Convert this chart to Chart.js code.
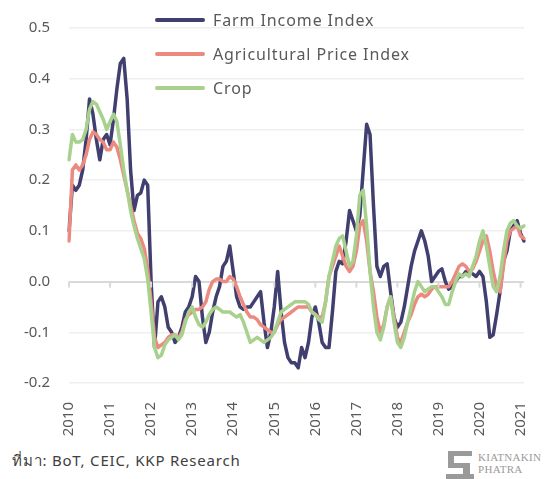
<!DOCTYPE html>
<html>
<head>
<meta charset="utf-8">
<script src="https://cdn.jsdelivr.net/npm/chart.js@4"></script>
<style>
  body{margin:0;background:#fff;font-family:"Noto Sans",sans-serif;}
  #wrap{position:relative;width:553px;height:479px;}
  #legend{position:absolute;left:155px;top:3px;}
  .item{display:flex;align-items:center;height:34px;color:#595959;font-size:16px;letter-spacing:.9px;}
  .item span.ln{display:inline-block;width:50px;height:4px;border-radius:2px;margin-right:8px;}
  #src{position:absolute;left:12px;top:449px;font-size:15px;color:#404040;letter-spacing:.8px;}
  #logo{position:absolute;left:446px;top:450px;width:105px;height:29px;}
  #logo .txt{position:absolute;left:32px;top:1px;font-family:"Liberation Serif",serif;font-size:11px;line-height:12px;color:#9a9a9a;letter-spacing:.3px;}
</style>
</head>
<body>
<div id="wrap">
  <canvas id="c" width="553" height="445"></canvas>
  <div id="legend"></div>
  <div id="src">ที่มา: BoT, CEIC, KKP Research</div>
  <div id="logo">
    <svg width="28" height="29" viewBox="0 0 28 29">
      <rect x="2" y="1" width="24" height="5" fill="#9a9a9a"/>
      <rect x="2" y="6" width="6" height="10" fill="#9a9a9a"/>
      <rect x="2" y="13" width="22" height="5" fill="#9a9a9a"/>
      <rect x="17" y="18" width="7" height="8" fill="#9a9a9a"/>
      <rect x="0" y="24" width="28" height="5" fill="#9a9a9a"/>
    </svg>
    <div class="txt">KIATNAKIN<br>PHATRA</div>
  </div>
</div>
<script>
// monthly, Jan 2010 - Feb 2021
const startYear=2010, nMonths=134;
const months=[];
for(let i=0;i<nMonths;i++){
  const y=startYear+Math.floor(i/12), m=i%12+1;
  months.push(y+"-"+(m<10?"0":"")+m);
}
const yTicks=[-0.2,-0.1,0,0.1,0.2,0.3,0.4,0.5];

const farmIncome=[
  0.10,0.19,0.18,0.19,0.22,0.28,0.36,0.33,0.28,0.24,0.28,0.29,
  0.27,0.32,0.38,0.43,0.44,0.36,0.22,0.14,0.17,0.175,0.20,0.19,
  0.00,-0.13,-0.04,-0.03,-0.05,-0.09,-0.10,-0.12,-0.11,-0.09,-0.06,-0.05,
  -0.03,0.01,0.00,-0.07,-0.12,-0.10,-0.06,-0.03,-0.01,0.03,0.04,0.07,
  0.02,-0.03,-0.05,-0.055,-0.05,-0.05,-0.04,-0.03,-0.02,-0.08,-0.13,-0.10,
  -0.05,0.02,-0.06,-0.12,-0.15,-0.16,-0.16,-0.17,-0.13,-0.15,-0.12,-0.07,
  -0.05,-0.08,-0.12,-0.13,-0.13,-0.06,0.02,0.04,0.035,0.08,0.14,0.12,
  0.10,0.13,0.22,0.31,0.29,0.15,0.03,0.01,0.03,0.035,-0.02,-0.07,
  -0.09,-0.08,-0.05,-0.01,0.03,0.06,0.08,0.10,0.08,0.05,0.00,0.01,
  0.02,0.025,0.00,-0.015,-0.01,0.00,0.01,0.01,0.02,0.02,0.015,0.01,
  0.02,0.01,-0.04,-0.11,-0.105,-0.065,-0.02,0.04,0.06,0.10,0.11,0.12,
  0.095,0.08
];
const agriPrice=[
  0.08,0.22,0.23,0.22,0.23,0.25,0.28,0.295,0.29,0.28,0.275,0.26,
  0.26,0.275,0.265,0.24,0.21,0.18,0.15,0.12,0.095,0.085,0.065,0.025,
  -0.04,-0.11,-0.13,-0.125,-0.12,-0.11,-0.105,-0.105,-0.11,-0.10,-0.075,-0.065,
  -0.06,-0.055,-0.055,-0.05,-0.04,-0.015,0.00,0.005,0.005,0.00,0.00,0.01,
  0.005,-0.01,-0.03,-0.045,-0.06,-0.07,-0.07,-0.075,-0.085,-0.09,-0.095,-0.10,
  -0.10,-0.085,-0.075,-0.07,-0.065,-0.06,-0.055,-0.05,-0.05,-0.05,-0.05,-0.06,
  -0.065,-0.07,-0.07,-0.04,0.01,0.03,0.05,0.07,0.05,0.03,0.02,0.03,
  0.06,0.11,0.12,0.08,0.02,-0.02,-0.07,-0.10,-0.085,-0.05,-0.03,-0.07,
  -0.11,-0.12,-0.10,-0.08,-0.065,-0.045,-0.03,-0.025,-0.03,-0.025,-0.015,-0.01,
  -0.01,-0.01,-0.01,-0.01,0.00,0.015,0.03,0.035,0.03,0.02,0.025,0.04,
  0.06,0.08,0.09,0.06,0.02,-0.01,-0.02,0.03,0.08,0.10,0.105,0.11,
  0.09,0.085
];
const crop=[
  0.24,0.29,0.275,0.275,0.28,0.30,0.34,0.355,0.35,0.335,0.32,0.30,
  0.315,0.33,0.315,0.27,0.22,0.18,0.14,0.11,0.085,0.065,0.045,0.005,
  -0.06,-0.13,-0.15,-0.145,-0.125,-0.115,-0.11,-0.105,-0.115,-0.105,-0.08,-0.06,
  -0.05,-0.07,-0.085,-0.09,-0.08,-0.065,-0.055,-0.05,-0.055,-0.06,-0.06,-0.06,
  -0.065,-0.07,-0.065,-0.08,-0.10,-0.12,-0.115,-0.11,-0.115,-0.12,-0.115,-0.11,
  -0.10,-0.08,-0.06,-0.055,-0.05,-0.045,-0.04,-0.04,-0.04,-0.04,-0.045,-0.06,
  -0.065,-0.075,-0.08,-0.04,0.01,0.04,0.07,0.085,0.09,0.06,0.03,0.04,
  0.09,0.17,0.18,0.11,0.02,-0.05,-0.10,-0.115,-0.09,-0.05,-0.03,-0.08,
  -0.12,-0.13,-0.11,-0.08,-0.05,-0.02,0.00,-0.01,-0.02,-0.015,-0.01,-0.01,
  -0.02,-0.03,-0.045,-0.045,-0.02,0.00,0.015,0.01,0.015,0.01,0.03,0.05,
  0.08,0.10,0.07,0.03,-0.01,-0.02,0.01,0.06,0.10,0.115,0.12,0.11,
  0.105,0.11
];

const series=[
  {label:"Farm Income Index",data:farmIncome,color:"#403f6f",order:2},
  {label:"Agricultural Price Index",data:agriPrice,color:"#ec8a7f",order:1},
  {label:"Crop",data:crop,color:"#a9d18e",order:0}
];

// legend (html, overlaid on the plot like the original)
const legendEl=document.getElementById("legend");
series.forEach(s=>{
  const d=document.createElement("div");
  d.className="item";
  d.innerHTML='<span class="ln" style="background:'+s.color+'"></span>'+s.label;
  legendEl.appendChild(d);
});

// small tick marks hanging from the zero line at each January
const zeroTicks={
  id:"zeroTicks",
  afterDatasetsDraw(chart){
    const {ctx,scales:{x,y}}=chart;
    const y0=y.getPixelForValue(0);
    ctx.save();
    ctx.strokeStyle="#d9d9d9";
    ctx.lineWidth=2;
    months.forEach((m,i)=>{
      if(!m.endsWith("-01")) return;
      const px=x.getPixelForValue(i);
      ctx.beginPath();ctx.moveTo(px,y0);ctx.lineTo(px,y0+6);ctx.stroke();
    });
    ctx.restore();
  }
};

Chart.defaults.font.family='"Noto Sans", sans-serif';
Chart.defaults.color="#595959";

new Chart(document.getElementById("c"),{
  type:"line",
  data:{
    labels:months,
    datasets:series.map(s=>({
      label:s.label,data:s.data,borderColor:s.color,backgroundColor:s.color,
      borderWidth:3.5,pointRadius:0,tension:0,order:s.order,
      borderCapStyle:"round",borderJoinStyle:"round"
    }))
  },
  options:{
    responsive:false,animation:false,devicePixelRatio:1,
    layout:{padding:{top:25,right:28,left:0,bottom:0}},
    plugins:{legend:{display:false},tooltip:{enabled:false}},
    scales:{
      x:{
        type:"category",offset:false,
        grid:{display:false},border:{display:false},
        ticks:{
          autoSkip:false,minRotation:90,maxRotation:90,padding:11,
          font:{size:15},
          callback:(v,i)=>months[i].endsWith("-01")?months[i].slice(0,4):""
        },
        afterFit:s=>{s.height=62;}
      },
      y:{
        min:-0.2,max:0.5,
        afterBuildTicks:s=>{s.ticks=yTicks.map(v=>({value:v}));},
        border:{display:false},
        grid:{
          drawTicks:false,
          color:c=>c.tick&&Math.abs(c.tick.value)<1e-9?"#d9d9d9":"#efefef",
          lineWidth:c=>c.tick&&Math.abs(c.tick.value)<1e-9?2:1.5
        },
        ticks:{
          padding:19,font:{size:15},
          callback:v=>v.toFixed(1)
        },
        afterFit:s=>{s.width=69;}
      }
    }
  },
  plugins:[zeroTicks]
});
</script>
</body>
</html>
